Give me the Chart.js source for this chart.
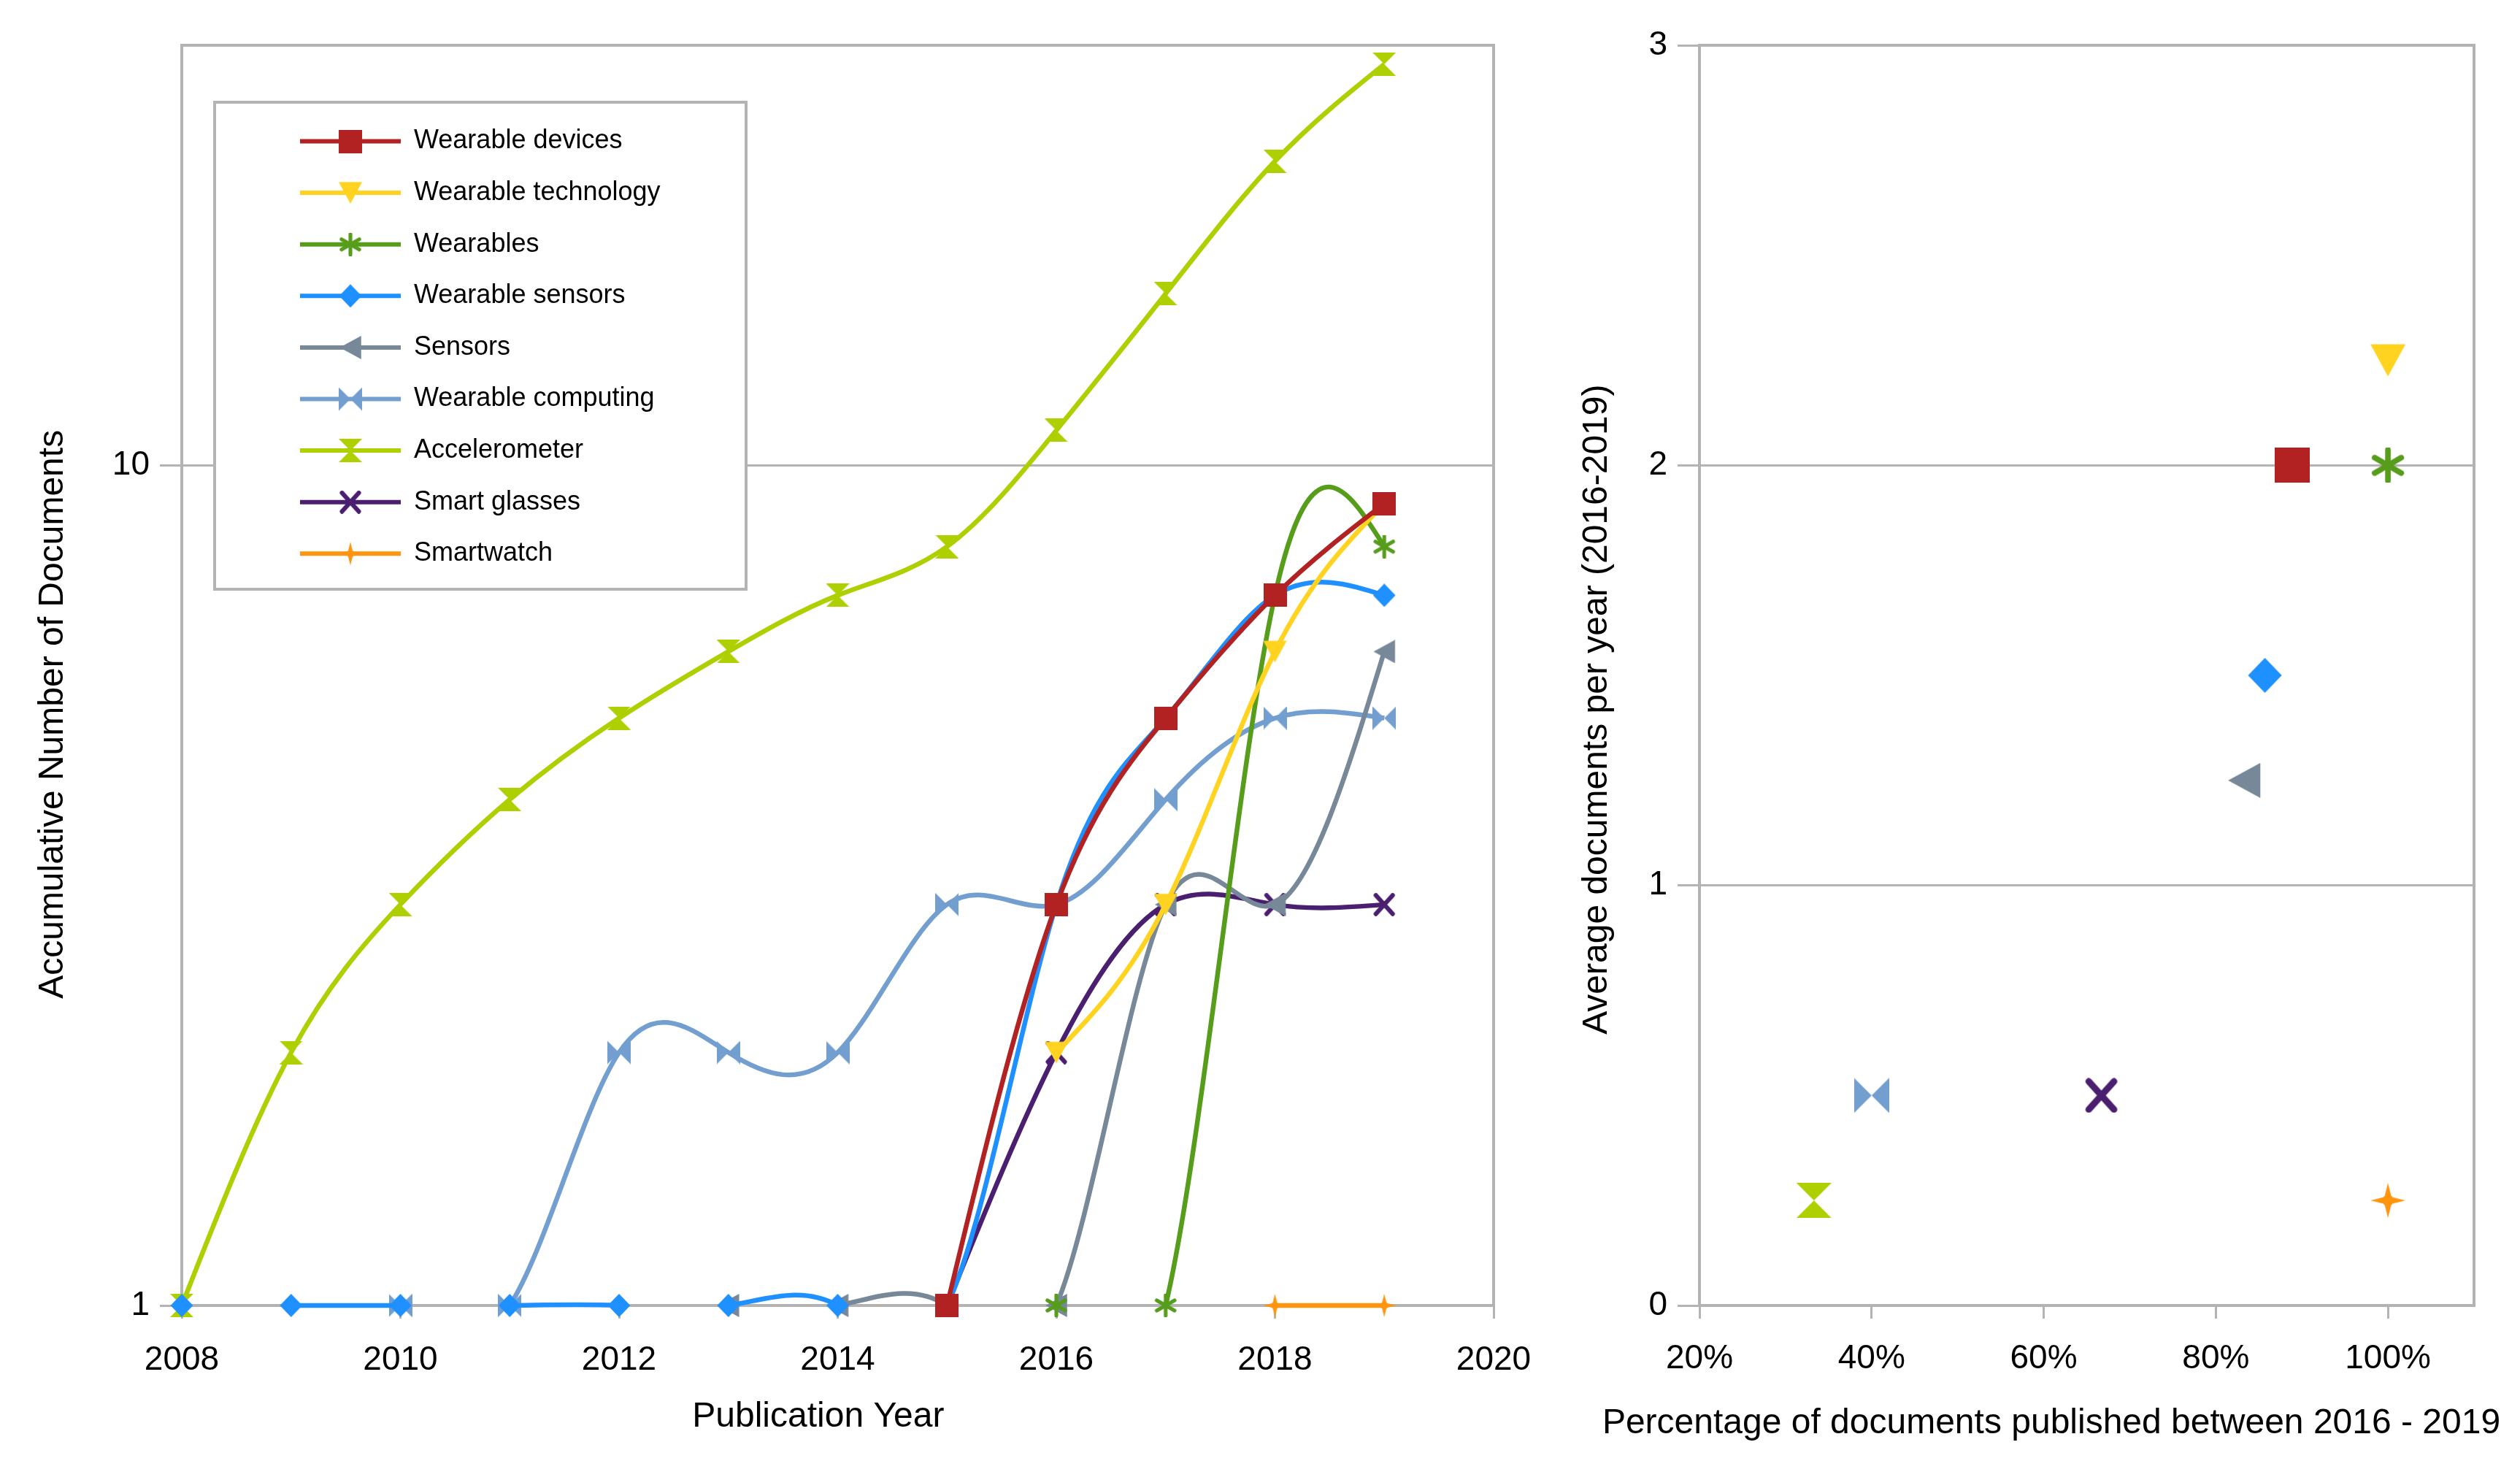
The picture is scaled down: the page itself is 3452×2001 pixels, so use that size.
<!DOCTYPE html>
<html>
<head>
<meta charset="utf-8">
<script src="https://cdn.jsdelivr.net/npm/chart.js@4.4.1/dist/chart.umd.min.js"></script>
<style>
  html, body { margin: 0; padding: 0; background: #fff; }
  #wrap { position: relative; width: 3452px; height: 2001px; }
  #left { position: absolute; left: 0; top: 0; }
  #right { position: absolute; left: 2150px; top: 0; }
</style>
</head>
<body>
<div id="wrap">
  <canvas id="left" width="2150" height="2001"></canvas>
  <canvas id="right" width="1302" height="2001"></canvas>
</div>
<script>
// ---- data ----
const years = [2008, 2009, 2010, 2011, 2012, 2013, 2014, 2015, 2016, 2017, 2018, 2019];

const seriesNames = ['Wearable devices', 'Wearable technology', 'Wearables', 'Wearable sensors', 'Sensors',
  'Wearable computing', 'Accelerometer', 'Smart glasses', 'Smartwatch'];
const seriesColors = ['#b22222', '#ffd320', '#579d1c', '#1e90ff', '#778899',
  '#729fcf', '#aecf00', '#4b1f6f', '#ff950e'];
const seriesShapes = ['square', 'down', 'asterisk', 'diamond', 'left', 'bowtie', 'hourglass', 'x', 'sparkle'];

// accumulative number of documents per year (null = not yet present)
const wearableDevices    = [null, null, null, null, null, null, null, 1, 3, 5, 7, 9];
const wearableTechnology = [null, null, null, null, null, null, null, null, 2, 3, 6, 9];
const wearables          = [null, null, null, null, null, null, null, null, 1, 1, 7, 8];
const wearableSensors    = [1, 1, 1, 1, 1, 1, 1, 1, 3, 5, 7, 7];
const sensors            = [null, null, null, null, null, 1, 1, 1, 1, 3, 3, 6];
const wearableComputing  = [null, null, 1, 1, 2, 2, 2, 3, 3, 4, 5, 5];
const accelerometer      = [1, 2, 3, 4, 5, 6, 7, 8, 11, 16, 23, 30];
const smartGlasses       = [null, null, null, null, null, null, null, 1, 2, 3, 3, 3];
const smartwatch         = [null, null, null, null, null, null, null, null, null, null, 1, 1];

const leftSeries = [wearableDevices, wearableTechnology, wearables, wearableSensors, sensors,
  wearableComputing, accelerometer, smartGlasses, smartwatch];

const xTickYears = [2008, 2010, 2012, 2014, 2016, 2018, 2020];
const yTicksLeft = [1, 10];

// right panel: share of documents from 2016-2019, and average per year in that period
const shareRecent = [0.889, 1.0, 1.0, 0.857, 0.833, 0.40, 0.333, 0.667, 1.0];
const avgPerYear  = [2.0, 2.25, 2.0, 1.5, 1.25, 0.5, 0.25, 0.5, 0.25];
const xTicksRight = [0.2, 0.4, 0.6, 0.8, 1.0];
const yTicksRight = [0, 1, 2, 3];

const FONT = '"Liberation Sans", Arial, sans-serif';
Chart.defaults.font.family = FONT;
Chart.defaults.color = '#000';

const gridGrey = '#b3b3b3';

// ---- marker symbols like the office-suite ones ----
function makeMarker(shape, color, s) {
  const c = document.createElement('canvas');
  c.width = s; c.height = s;
  const g = c.getContext('2d');
  g.fillStyle = color;
  g.strokeStyle = color;
  const poly = pts => {
    g.beginPath();
    pts.forEach(([x, y], i) => i ? g.lineTo(x * s, y * s) : g.moveTo(x * s, y * s));
    g.closePath();
    g.fill();
  };
  const seg = (x0, y0, x1, y1) => {
    g.beginPath(); g.moveTo(x0 * s, y0 * s); g.lineTo(x1 * s, y1 * s); g.stroke();
  };
  switch (shape) {
    case 'square': poly([[0, 0], [1, 0], [1, 1], [0, 1]]); break;
    case 'down': poly([[0, 0.04], [1, 0.04], [0.5, 0.96]]); break;
    case 'left': poly([[0.96, 0], [0.96, 1], [0.04, 0.5]]); break;
    case 'diamond': poly([[0.5, 0], [0.98, 0.5], [0.5, 1], [0.02, 0.5]]); break;
    case 'bowtie': poly([[0, 0], [0.5, 0.5], [1, 0], [1, 1], [0.5, 0.5], [0, 1]]); break;
    case 'hourglass': poly([[0, 0], [1, 0], [0.5, 0.5], [1, 1], [0, 1], [0.5, 0.5]]); break;
    case 'x':
      g.lineWidth = s * 0.19; g.lineCap = 'round';
      seg(0.14, 0.1, 0.86, 0.9); seg(0.86, 0.1, 0.14, 0.9);
      break;
    case 'asterisk':
      g.lineWidth = s * 0.16; g.lineCap = 'round';
      seg(0.5, 0.06, 0.5, 0.94);
      seg(0.12, 0.28, 0.88, 0.72); seg(0.12, 0.72, 0.88, 0.28);
      break;
    case 'sparkle':
      poly([[0.5, 0], [0.6, 0.4], [1, 0.5], [0.6, 0.6], [0.5, 1], [0.4, 0.6], [0, 0.5], [0.4, 0.4]]);
      g.beginPath(); g.arc(s / 2, s / 2, s * 0.16, 0, Math.PI * 2); g.fill();
      break;
  }
  return c;
}
const smallMarkers = seriesShapes.map((sh, i) => makeMarker(sh, seriesColors[i], 32));
const bigMarkers = seriesShapes.map((sh, i) => makeMarker(sh, seriesColors[i], 48));

// ---- natural cubic spline (second derivatives) ----
function naturalM(xs, ys) {
  const n = xs.length;
  const M = new Array(n).fill(0);
  if (n < 3) return M;
  const a = [], b = [], c = [], d = [];
  for (let i = 1; i < n - 1; i++) {
    const h0 = xs[i] - xs[i - 1], h1 = xs[i + 1] - xs[i];
    a.push(h0); b.push(2 * (h0 + h1)); c.push(h1);
    d.push(6 * ((ys[i + 1] - ys[i]) / h1 - (ys[i] - ys[i - 1]) / h0));
  }
  const m = b.length;
  for (let i = 1; i < m; i++) {
    const w = a[i] / b[i - 1];
    b[i] -= w * c[i - 1];
    d[i] -= w * d[i - 1];
  }
  const sol = new Array(m);
  sol[m - 1] = d[m - 1] / b[m - 1];
  for (let i = m - 2; i >= 0; i--) sol[i] = (d[i] - c[i] * sol[i + 1]) / b[i];
  for (let i = 0; i < m; i++) M[i + 1] = sol[i];
  return M;
}

// segments lying on the bottom (value 1) whose spline dips below the axis get clipped away
const hiddenSeg = leftSeries.map(vals => {
  const idx = vals.map((v, i) => v == null ? -1 : i).filter(i => i >= 0);
  const xs = idx.map(i => years[i]);
  const ys = idx.map(i => Math.log10(vals[i]));
  const M = naturalM(xs, ys);
  const hide = {};
  for (let k = 0; k < idx.length - 1; k++) {
    const h = xs[k + 1] - xs[k];
    const mid = (ys[k] + ys[k + 1]) / 2 - h * h / 16 * (M[k] + M[k + 1]);
    if (ys[k] === 0 && ys[k + 1] === 0 && mid < 0) hide[idx[k]] = true;
  }
  return hide;
});

const splinePlugin = {
  id: 'naturalSpline',
  beforeDatasetDraw(chart, args) {
    const meta = args.meta;
    const area = chart.chartArea;
    meta.dataset.updateControlPoints(area, meta.iScale.axis);
    const pts = meta.data.filter(p => !p.skip);
    const M = naturalM(pts.map(p => p.x), pts.map(p => p.y));
    const clampY = y => Math.min(Math.max(y, area.top), area.bottom);
    for (let k = 0; k < pts.length - 1; k++) {
      const p0 = pts[k], p1 = pts[k + 1];
      const h = p1.x - p0.x;
      const slope = (p1.y - p0.y) / h;
      const d0 = slope - h * (2 * M[k] + M[k + 1]) / 6;
      const d1 = slope + h * (M[k] + 2 * M[k + 1]) / 6;
      p0.cp2x = p0.x + h / 3; p0.cp2y = clampY(p0.y + d0 * h / 3);
      p1.cp1x = p1.x - h / 3; p1.cp1y = clampY(p1.y - d1 * h / 3);
    }
  }
};

const framePlugin = {
  id: 'frame',
  beforeDatasetsDraw(chart) {
    const { ctx, chartArea: a } = chart;
    ctx.save();
    ctx.strokeStyle = gridGrey;
    ctx.lineWidth = 4;
    ctx.strokeRect(a.left, a.top, a.right - a.left, a.bottom - a.top);
    ctx.restore();
  }
};

const boxLegend = {
  id: 'boxLegend',
  afterDatasetsDraw(chart) {
    const { ctx, chartArea: a } = chart;
    const left = a.left + 45, top = a.top + 78, w = 728, h = 667;
    ctx.save();
    ctx.fillStyle = '#fff';
    ctx.fillRect(left, top, w, h);
    ctx.strokeStyle = gridGrey;
    ctx.lineWidth = 4;
    ctx.strokeRect(left, top, w, h);
    ctx.font = '36px ' + FONT;
    ctx.textBaseline = 'middle';
    chart.data.datasets.forEach((ds, i) => {
      const y = top + 53.5 + i * 70.6;
      ctx.strokeStyle = ds.borderColor;
      ctx.lineWidth = 6;
      ctx.beginPath();
      ctx.moveTo(left + 117, y);
      ctx.lineTo(left + 255, y);
      ctx.stroke();
      const img = ds.pointStyle;
      ctx.drawImage(img, left + 186 - img.width / 2, y - img.height / 2);
      ctx.fillStyle = '#000';
      ctx.fillText(ds.label, left + 273, y);
    });
    ctx.restore();
  }
};

// the x title of the right panel is wider than its plot, so it is drawn unsqueezed here
const wideXTitle = {
  id: 'wideXTitle',
  afterDraw(chart, args, opts) {
    const { ctx } = chart;
    ctx.save();
    ctx.font = '48px ' + FONT;
    ctx.fillStyle = '#000';
    ctx.textAlign = 'center';
    ctx.textBaseline = 'middle';
    ctx.fillText(opts.text, opts.x, chart.height - opts.fromBottom);
    ctx.restore();
  }
};

// ---- left: accumulative documents, log scale ----
new Chart(document.getElementById('left'), {
  type: 'line',
  data: {
    datasets: leftSeries.map((vals, i) => ({
      label: seriesNames[i],
      data: years.map((yr, j) => ({ x: yr, y: vals[j] })),
      borderColor: seriesColors[i],
      backgroundColor: seriesColors[i],
      pointStyle: smallMarkers[i],
      pointRadius: 17,
      borderWidth: 6.5,
      borderJoinStyle: 'round',
      tension: 0.4,
      fill: false,
      clip: false,
      segment: {
        borderColor: ctx => hiddenSeg[i][ctx.p0DataIndex] ? 'rgba(0,0,0,0)' : undefined
      }
    }))
  },
  options: {
    responsive: false,
    animation: false,
    events: [],
    layout: { padding: { top: 62, right: 104, left: 0, bottom: 0 } },
    plugins: { legend: { display: false }, tooltip: { enabled: false } },
    scales: {
      x: {
        type: 'linear', min: 2008, max: 2020,
        afterBuildTicks: s => { s.ticks = xTickYears.map(v => ({ value: v })); },
        afterFit: s => { s.height = 213; },
        grid: { drawOnChartArea: false, tickLength: 18, color: gridGrey, lineWidth: 3 },
        border: { display: false },
        ticks: { padding: 30, maxRotation: 0, font: { size: 46 }, callback: v => String(v) },
        title: { display: true, text: 'Publication Year    ', font: { size: 48 }, padding: { top: 0, bottom: 31 } }
      },
      y: {
        type: 'logarithmic', min: 1, max: 31.6,
        afterBuildTicks: s => { s.ticks = yTicksLeft.map(v => ({ value: v })); },
        afterFit: s => { s.width = 249; },
        grid: { tickLength: 30, color: gridGrey, lineWidth: 3 },
        border: { display: false },
        ticks: { padding: 14, font: { size: 46 }, callback: v => String(v) },
        title: { display: true, text: 'Accumulative Number of Documents        ', font: { size: 48 }, padding: { top: 44, bottom: 0 } }
      }
    }
  },
  plugins: [framePlugin, splinePlugin, boxLegend]
});

// ---- right: share since 2016 vs average per year ----
new Chart(document.getElementById('right'), {
  type: 'scatter',
  data: {
    datasets: seriesNames.map((name, i) => ({
      label: name,
      data: [{ x: shareRecent[i], y: avgPerYear[i] }],
      pointStyle: bigMarkers[i],
      pointRadius: 25,
      borderColor: seriesColors[i],
      backgroundColor: seriesColors[i],
      clip: false
    }))
  },
  options: {
    responsive: false,
    animation: false,
    events: [],
    layout: { padding: { top: 62, right: 63, left: 0, bottom: 0 } },
    plugins: {
      legend: { display: false },
      tooltip: { enabled: false },
      wideXTitle: { text: 'Percentage of documents published between 2016 - 2019', x: 660, fromBottom: 51 }
    },
    scales: {
      x: {
        type: 'linear', min: 0.2, max: 1.1,
        afterBuildTicks: s => { s.ticks = xTicksRight.map(v => ({ value: v })); },
        afterFit: s => { s.height = 213; },
        grid: { drawOnChartArea: false, tickLength: 18, color: gridGrey, lineWidth: 3 },
        border: { display: false },
        ticks: { padding: 28, maxRotation: 0, font: { size: 46 }, callback: v => Math.round(v * 100) + '%' },
        title: { display: false }
      },
      y: {
        type: 'linear', min: 0, max: 3,
        afterBuildTicks: s => { s.ticks = yTicksRight.map(v => ({ value: v })); },
        afterFit: s => { s.width = 178; },
        grid: { tickLength: 30, color: gridGrey, lineWidth: 3 },
        border: { display: false },
        ticks: { padding: 14, font: { size: 46 }, callback: v => String(v) },
        title: { display: true, text: 'Average documents per year (2016-2019)       ', font: { size: 48 }, padding: { top: 9, bottom: 0 } }
      }
    }
  },
  plugins: [framePlugin, wideXTitle]
});
</script>
</body>
</html>
